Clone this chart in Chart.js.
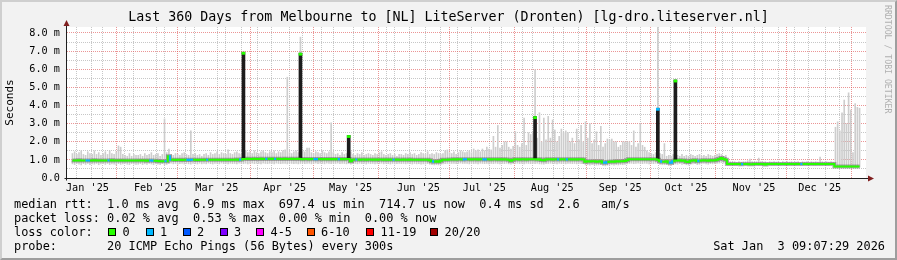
<!DOCTYPE html>
<html>
<head>
<meta charset="utf-8">
<script src="https://cdn.jsdelivr.net/npm/chart.js@4.4.1/dist/chart.umd.min.js"></script>
<style>
  html, body { margin: 0; padding: 0; background: #f2f2f2; }
  #wrap { position: relative; width: 897px; height: 260px; overflow: hidden; background: #f2f2f2;
          font-family: 'DejaVu Sans Mono', monospace; color: #000; }
  #edge { position: absolute; left: 0; top: 0; width: 897px; height: 260px; box-sizing: border-box;
          border-top: 2px solid #cfcfcf; border-left: 2px solid #cfcfcf;
          border-right: 2px solid #9e9e9e; border-bottom: 2px solid #9e9e9e; }
  #chart { position: absolute; left: 0; top: 0; }
  #title { position: absolute; left: 0; top: 9px; width: 897px; text-align: center;
           font-size: 13.3px; line-height: 16px; white-space: pre; }
  #mark { position: absolute; left: 883px; top: 5px; writing-mode: vertical-rl;
          font-size: 8.2px; line-height: 9px; color: #b0b0b0; white-space: pre; }
  .row { position: absolute; left: 14px; font-size: 11.9px; line-height: 14px; white-space: pre; }
  .sw { position: absolute; top: 228px; width: 8px; height: 8px; box-sizing: border-box; border: 1px solid #000; }
  .swl { position: absolute; top: 225px; font-size: 11.9px; line-height: 14px; white-space: pre; }
  #stamp { position: absolute; right: 12px; top: 239px; font-size: 11.9px; line-height: 14px; white-space: pre; }
</style>
</head>
<body>
<div id="wrap">
  <div id="edge"></div>
  <canvas id="chart" width="897" height="260"></canvas>
  <div id="title">Last 360 Days from Melbourne to [NL] LiteServer (Dronten) [lg-dro.liteserver.nl]</div>
  <div id="mark">RRDTOOL / TOBI OETIKER</div>
  <div class="row" style="top:197px">median rtt:  1.0 ms avg  6.9 ms max  697.4 us min  714.7 us now  0.4 ms sd  2.6   am/s</div>
  <div class="row" style="top:211px">packet loss: 0.02 % avg  0.53 % max  0.00 % min  0.00 % now</div>
  <div class="row" style="top:225px">loss color:</div>
  <div id="legendSwatches"></div>
  <div class="row" style="top:239px">probe:       20 ICMP Echo Pings (56 Bytes) every 300s</div>
  <div id="stamp">Sat Jan  3 09:07:29 2026</div>
</div>
<script>
(function(){
  // x axis is "days since 1 Jan 2025"
  const X_MIN = 7.65, X_MAX = 367.65;
  const monthNames = ["Jan '25", "Feb '25", "Mar '25", "Apr '25", "May '25", "Jun '25",
                      "Jul '25", "Aug '25", "Sep '25", "Oct '25", "Nov '25", "Dec '25"];
  const monthStart = [0, 31, 59, 90, 120, 151, 181, 212, 243, 273, 304, 334, 365];
  const yTickValues = [0, 0.5, 1, 1.5, 2, 2.5, 3, 3.5, 4, 4.5, 5, 5.5, 6, 6.5, 7, 7.5, 8];

  // one value per day, 360 days (ms)
  const smokeHigh = [
    1.35,1.45,1.3,1.4,1.5,1.3,1.25,1.45,1.35,1.3,1.5,1.3,1.4,1.25,1.35,1.45,1.3,1.5,1.35,1.3,1.45,1.77,1.7,1.3,1.25,1.2,1.35,1.2,1.3,1.25,
    1.25,1.3,1.2,1.35,1.25,1.3,1.4,1.25,1.3,1.35,1.2,1.3,3.26,1.4,1.6,1.3,1.25,1.35,1.3,1.25,1.35,1.4,1.3,1.25,2.6,1.3,1.35,1.25,1.3,1.2,
    1.3,1.35,1.25,1.4,1.3,1.35,1.45,1.3,1.4,1.35,1.3,1.55,1.35,1.3,1.4,1.45,1.35,1.3,1.4,1.5,1.4,1.45,1.35,1.5,1.4,1.35,1.45,1.5,1.4,1.35,
    1.45,1.4,1.5,1.35,1.45,1.4,1.5,1.55,5.56,1.4,1.35,1.45,1.5,1.4,7.77,1.5,1.45,1.65,1.65,1.4,1.35,1.45,1.4,1.35,1.5,1.4,1.35,1.45,3.05,1.4,
    1.3,1.35,1.25,1.4,1.3,1.35,1.3,1.45,1.3,1.25,1.35,1.3,1.4,1.25,1.3,1.35,1.3,1.25,1.35,1.3,1.4,1.45,1.3,1.25,1.3,1.35,1.25,1.3,1.2,1.3,
    1.3,1.25,1.35,1.3,1.4,1.3,1.35,1.25,1.3,1.4,1.35,1.3,1.45,1.3,1.35,1.3,1.4,1.35,1.3,1.35,1.5,1.55,1.4,1.35,1.45,1.3,1.4,1.5,1.45,1.4,
    1.45,1.5,1.4,1.6,1.5,1.55,1.45,1.6,1.5,1.7,1.6,1.55,2.3,1.7,2.9,1.65,1.8,2.0,2.0,1.7,1.6,1.75,2.56,1.8,1.7,1.9,3.3,1.8,2.5,2.4,
    2.5,5.97,2.2,3.6,2.0,3.3,2.1,3.4,2.2,3.2,2.65,2.0,2.3,2.7,2.5,2.6,2.5,2.0,2.2,1.9,2.7,2.1,2.9,2.0,3.1,2.2,3.0,1.9,2.1,2.55,
    1.8,2.85,1.7,1.9,2.15,2.1,2.15,2.0,2.0,1.7,1.8,2.0,2.0,2.0,2.0,1.8,2.6,1.7,1.9,3.0,1.8,1.7,1.5,1.4,1.35,1.3,1.4,9.0,1.35,1.3,
    1.9,1.2,1.25,1.2,1.3,1.3,1.25,1.2,1.3,1.2,1.25,1.2,1.3,1.25,1.2,1.25,1.3,1.2,1.25,1.2,1.3,1.25,1.2,1.25,1.3,1.35,1.3,1.2,1.25,0.95,
    0.9,0.88,0.9,0.85,0.9,0.88,0.9,0.9,0.95,1.05,0.9,0.88,0.9,1.1,0.9,0.88,0.9,0.85,0.9,0.88,0.9,0.88,0.9,0.85,0.9,0.88,0.9,0.88,0.9,0.85,
    0.88,0.9,0.85,0.9,0.88,0.9,0.85,0.9,0.88,0.9,0.88,1.15,0.9,0.88,0.9,0.88,0.9,0.88,2.8,3.1,2.6,3.6,4.3,3.0,4.7,3.75,1.4,4.1,3.9,3.85
  ];
  const smokeLow = [
    0.78,0.74,0.8,0.76,0.72,0.79,0.75,0.8,0.74,0.78,0.76,0.8,0.73,0.77,0.79,0.75,0.8,0.74,0.78,0.76,0.72,0.79,0.75,0.78,0.8,0.76,0.74,0.79,0.77,0.75,
    0.76,0.79,0.74,0.78,0.75,0.8,0.77,0.73,0.78,0.76,0.74,0.79,0.72,0.75,0.8,0.82,0.78,0.8,0.76,0.79,0.81,0.77,0.8,0.78,0.76,0.8,0.79,0.77,0.81,0.78,
    0.8,0.78,0.82,0.79,0.77,0.81,0.8,0.78,0.82,0.79,0.8,0.77,0.81,0.79,0.8,0.78,0.82,0.8,0.79,0.81,0.78,0.8,0.82,0.79,0.81,0.8,0.78,0.82,0.8,0.79,
    0.81,0.8,0.78,0.82,0.8,0.79,0.81,0.8,0.78,0.82,0.8,0.79,0.81,0.78,0.8,0.82,0.79,0.8,0.81,0.78,0.8,0.82,0.79,0.81,0.8,0.78,0.82,0.8,0.79,0.81,
    0.8,0.82,0.79,0.81,0.8,0.78,0.82,0.76,0.79,0.8,0.78,0.81,0.79,0.8,0.77,0.81,0.79,0.8,0.78,0.8,0.79,0.81,0.78,0.8,0.79,0.77,0.8,0.78,0.79,0.8,
    0.79,0.8,0.78,0.8,0.79,0.77,0.8,0.78,0.79,0.76,0.78,0.77,0.79,0.76,0.74,0.72,0.73,0.72,0.75,0.77,0.79,0.8,0.78,0.8,0.81,0.79,0.8,0.82,0.8,0.81,
    0.8,0.78,0.81,0.79,0.8,0.78,0.81,0.8,0.79,0.81,0.78,0.8,0.79,0.81,0.8,0.78,0.8,0.79,0.81,0.78,0.76,0.79,0.8,0.81,0.79,0.8,0.78,0.81,0.8,0.79,
    0.8,0.79,0.81,0.78,0.77,0.76,0.79,0.8,0.81,0.79,0.8,0.78,0.81,0.79,0.8,0.78,0.81,0.8,0.79,0.8,0.78,0.81,0.79,0.8,0.72,0.73,0.71,0.74,0.72,0.71,
    0.72,0.73,0.68,0.67,0.7,0.72,0.73,0.71,0.73,0.72,0.74,0.73,0.75,0.78,0.8,0.81,0.79,0.8,0.82,0.8,0.79,0.81,0.8,0.78,0.8,0.79,0.81,0.8,0.75,0.73,
    0.73,0.75,0.69,0.68,0.74,0.77,0.76,0.79,0.75,0.78,0.73,0.71,0.76,0.78,0.79,0.74,0.76,0.78,0.8,0.78,0.76,0.79,0.78,0.79,0.8,0.82,0.85,0.82,0.8,0.72,
    0.72,0.73,0.72,0.72,0.73,0.71,0.72,0.73,0.72,0.71,0.71,0.72,0.73,0.72,0.72,0.73,0.72,0.72,0.73,0.72,0.72,0.73,0.72,0.72,0.73,0.72,0.72,0.73,0.72,0.72,
    0.72,0.73,0.72,0.72,0.73,0.72,0.72,0.73,0.72,0.72,0.73,0.72,0.72,0.73,0.72,0.72,0.73,0.72,0.6,0.6,0.6,0.6,0.6,0.6,0.6,0.6,0.6,0.6,0.6,0.6
  ];
  const median = [
    0.97,0.96,0.97,0.98,0.97,0.96,0.97,0.97,0.96,0.97,0.98,0.97,0.96,0.97,0.97,0.96,0.97,0.97,0.98,0.97,0.96,0.97,0.97,0.96,0.97,0.97,0.96,0.97,0.96,0.97,
    0.96,0.96,0.97,0.96,0.95,0.96,0.96,0.95,0.95,0.94,0.93,0.93,0.92,0.93,1.2,1.0,1.0,0.99,1.0,1.0,0.99,1.0,1.0,0.99,1.0,1.0,1.0,0.99,1.0,1.0,
    1.0,1.0,1.01,1.0,1.0,1.01,1.0,1.01,1.0,1.01,1.0,1.01,1.01,1.0,1.01,1.02,1.01,1.02,1.05,1.05,1.06,1.05,1.05,1.06,1.05,1.05,1.06,1.05,1.05,1.06,
    1.05,1.06,1.05,1.05,1.06,1.05,1.05,1.06,1.05,1.05,1.06,1.05,1.05,1.06,1.05,1.04,1.05,1.05,1.04,1.05,1.05,1.04,1.05,1.05,1.04,1.05,1.04,1.05,1.04,1.05,
    1.04,1.05,1.04,1.05,1.04,1.05,1.05,0.92,1.0,1.02,1.02,1.01,1.02,1.02,1.01,1.02,1.02,1.01,1.02,1.01,1.02,1.02,1.01,1.02,1.01,1.02,1.01,1.01,1.02,1.01,
    1.01,1.02,1.01,1.01,1.02,1.01,1.01,1.0,1.01,1.0,1.01,1.0,1.0,0.98,0.93,0.9,0.92,0.9,0.95,1.0,1.0,1.01,1.02,1.02,1.03,1.02,1.03,1.03,1.02,1.03,
    1.03,1.03,1.02,1.03,1.03,1.02,1.03,1.03,1.02,1.03,1.03,1.02,1.03,1.03,1.02,1.03,1.02,1.03,1.02,1.0,0.95,1.0,1.03,1.03,1.02,1.03,1.03,1.02,1.03,1.03,
    1.03,1.03,1.02,1.03,0.99,0.98,1.02,1.03,1.03,1.02,1.03,1.03,1.02,1.03,1.03,1.02,1.03,1.03,1.02,1.03,1.02,1.03,1.03,1.02,0.9,0.92,0.91,0.93,0.92,0.9,
    0.91,0.92,0.85,0.84,0.88,0.9,0.91,0.9,0.92,0.91,0.93,0.92,0.94,0.98,1.03,1.03,1.04,1.03,1.04,1.03,1.04,1.04,1.03,1.04,1.03,1.04,1.03,1.0,0.92,0.9,
    0.9,0.93,0.85,0.84,0.92,0.97,0.96,0.98,0.95,0.97,0.9,0.88,0.95,0.97,0.98,0.92,0.95,0.97,0.98,0.97,0.95,0.98,0.97,0.98,1.0,1.05,1.1,1.05,1.0,0.77,
    0.77,0.77,0.77,0.77,0.77,0.76,0.77,0.77,0.77,0.76,0.76,0.77,0.77,0.77,0.77,0.77,0.74,0.77,0.77,0.77,0.77,0.77,0.77,0.77,0.77,0.77,0.77,0.77,0.77,0.77,
    0.77,0.77,0.77,0.77,0.77,0.77,0.77,0.77,0.77,0.77,0.77,0.77,0.77,0.77,0.77,0.77,0.77,0.77,0.64,0.64,0.64,0.64,0.64,0.64,0.64,0.64,0.64,0.64,0.64,0.64
  ];
  // days where the median was drawn with 1/20 loss colour
  const lossOneDays = [6,7,16,35,36,42,44,52,53,54,61,76,88,92,110,111,121,129,146,164,178,179,187,188,221,225,242,243,268,272,273,285,305,332];
  // days where the whole smoke column went up (dark spikes)
  const spikeDays = [78, 104, 126, 211, 267, 275];
  const spikeTop  = [6.94, 6.89, 2.35, 3.39, 3.85, 5.41];
  const spikeLoss = [0, 0, 0, 0, 1, 0];

  const lossColors = ['#26ff00', '#00b8ff', '#0059ff', '#7e00ff', '#ff00ff', '#ff5500', '#ff0000', '#a10000'];
  const lossLabels = ['0', '1', '2', '3', '4-5', '6-10', '11-19', '20/20'];
  const swatchX = [108, 145.5, 182.5, 219.5, 256, 306.5, 366, 430];

  // legend swatches
  const swHost = document.getElementById('legendSwatches');
  lossLabels.forEach((lab, k) => {
    const b = document.createElement('div');
    b.className = 'sw';
    b.style.left = swatchX[k] + 'px';
    b.style.background = lossColors[k];
    swHost.appendChild(b);
    const t = document.createElement('div');
    t.className = 'swl';
    t.style.left = (swatchX[k] + 14.5) + 'px';
    t.textContent = lab;
    swHost.appendChild(t);
  });

  const dayX = i => X_MIN + i + 0.5;
  const lossSet = new Set(lossOneDays);

  // x ticks: weekly minor grid, monthly major grid, labels mid month
  const xTicks = [];
  for (let d = 11.55; d < X_MAX; d += 7) xTicks.push({ value: d, kind: 'week' });
  monthStart.forEach(d => { if (d > X_MIN && d < X_MAX) xTicks.push({ value: d, kind: 'month' }); });
  monthNames.forEach((n, k) => xTicks.push({ value: monthStart[k] + 15, kind: 'label', text: n }));
  xTicks.sort((a, b) => a.value - b.value);

  const RED = 'rgba(222,79,79,0.6)';
  const GRAY = 'rgba(143,143,143,0.5)';
  const NONE = 'rgba(0,0,0,0)';

  const plotBg = {
    id: 'plotBg',
    beforeDraw(c) {
      const a = c.chartArea, g = c.ctx;
      g.save();
      g.fillStyle = '#ffffff';
      g.fillRect(a.left, a.top, a.right - a.left, a.bottom - a.top);
      g.restore();
    }
  };
  const arrows = {
    id: 'arrows',
    afterDraw(c) {
      const a = c.chartArea, g = c.ctx;
      const ax = a.left + 0.5, ay = a.bottom + 0.5;
      g.save();
      g.strokeStyle = '#1f1f1f';
      g.lineWidth = 1;
      g.beginPath();
      g.moveTo(ax, ay + 2); g.lineTo(ax, a.top - 3);
      g.moveTo(ax - 2, ay); g.lineTo(a.right + 3, ay);
      g.stroke();
      g.fillStyle = '#801f1f';
      g.beginPath();
      g.moveTo(ax, a.top - 7); g.lineTo(ax - 3, a.top - 1); g.lineTo(ax + 3, a.top - 1); g.closePath();
      g.fill();
      g.beginPath();
      g.moveTo(a.right + 8, ay); g.lineTo(a.right + 2, ay - 3); g.lineTo(a.right + 2, ay + 3); g.closePath();
      g.fill();
      g.restore();
    }
  };

  Chart.defaults.font.family = "'DejaVu Sans Mono', monospace";
  Chart.defaults.color = '#000';

  new Chart(document.getElementById('chart'), {
    data: {
      datasets: [
        {
          type: 'line',
          label: 'median',
          data: median.map((v, i) => ({ x: dayX(i), y: v })),
          borderWidth: 2,
          pointRadius: 0,
          stepped: 'middle',
          borderColor: '#26ff00',
          segment: { borderColor: s => lossSet.has(s.p0DataIndex) ? '#00b8ff' : '#26ff00' },
          order: 0
        },
        {
          type: 'bar',
          label: 'tips',
          data: spikeDays.map((d, k) => ({ x: dayX(d), y: [spikeTop[k] - 0.12, spikeTop[k]] })),
          backgroundColor: spikeLoss.map(l => lossColors[l]),
          grouped: false, barThickness: 3, borderWidth: 0,
          order: 1
        },
        {
          type: 'bar',
          label: 'spikes',
          data: spikeDays.map((d, k) => ({ x: dayX(d), y: [median[d], spikeTop[k]] })),
          backgroundColor: '#1c1c1c',
          grouped: false, barThickness: 3, borderWidth: 0,
          order: 2
        },
        {
          type: 'line',
          label: 'core',
          data: median.map((v, i) => ({ x: dayX(i), y: v })),
          borderWidth: 4,
          pointRadius: 0,
          stepped: 'middle',
          borderColor: 'rgba(80,80,80,0.45)',
          order: 3
        },
        {
          type: 'bar',
          label: 'smoke',
          data: smokeHigh.map((h, i) => ({ x: dayX(i), y: [smokeLow[i], h] })),
          backgroundColor: '#cdcdcd',
          grouped: false, barPercentage: 1, categoryPercentage: 1, borderWidth: 0,
          order: 4
        }
      ]
    },
    options: {
      responsive: false,
      animation: false,
      events: [],
      layout: { padding: { left: 0, right: 31, top: 27, bottom: 0 } },
      plugins: { legend: { display: false }, tooltip: { enabled: false }, title: { display: false } },
      scales: {
        x: {
          type: 'linear',
          min: X_MIN,
          max: X_MAX,
          afterBuildTicks: s => { s.ticks = xTicks.map(t => Object.assign({}, t)); },
          afterFit: s => { s.height = 82; },
          ticks: {
            autoSkip: false, maxRotation: 0, minRotation: 0, padding: 4,
            font: { size: 10.2 },
            callback: (v, i, ticks) => ticks[i].kind === 'label' ? ticks[i].text : ''
          },
          grid: {
            drawTicks: false,
            lineWidth: 1,
            color: c => !c.tick ? NONE : c.tick.kind === 'month' ? RED : c.tick.kind === 'week' ? GRAY : NONE
          },
          border: { display: true, color: '#1f1f1f', width: 1, dash: [1, 1] }
        },
        y: {
          type: 'linear',
          min: 0,
          max: 8.33,
          afterBuildTicks: s => { s.ticks = yTickValues.map(v => ({ value: v })); },
          afterFit: s => { s.width = 66; },
          ticks: {
            autoSkip: false, padding: 6,
            font: { size: 10.2 },
            callback: v => Number.isInteger(v) ? (v === 0 ? '0.0' : v.toFixed(1) + ' m') : ''
          },
          grid: {
            drawTicks: false,
            lineWidth: 1,
            color: c => !c.tick || c.tick.value === 0 ? NONE : Number.isInteger(c.tick.value) ? RED : GRAY
          },
          border: { display: true, color: '#1f1f1f', width: 1, dash: [1, 1] },
          title: { display: true, text: 'Seconds', font: { size: 11 }, padding: { top: 4, bottom: 0 } }
        }
      }
    },
    plugins: [plotBg, arrows]
  });
})();
</script>
</body>
</html>
